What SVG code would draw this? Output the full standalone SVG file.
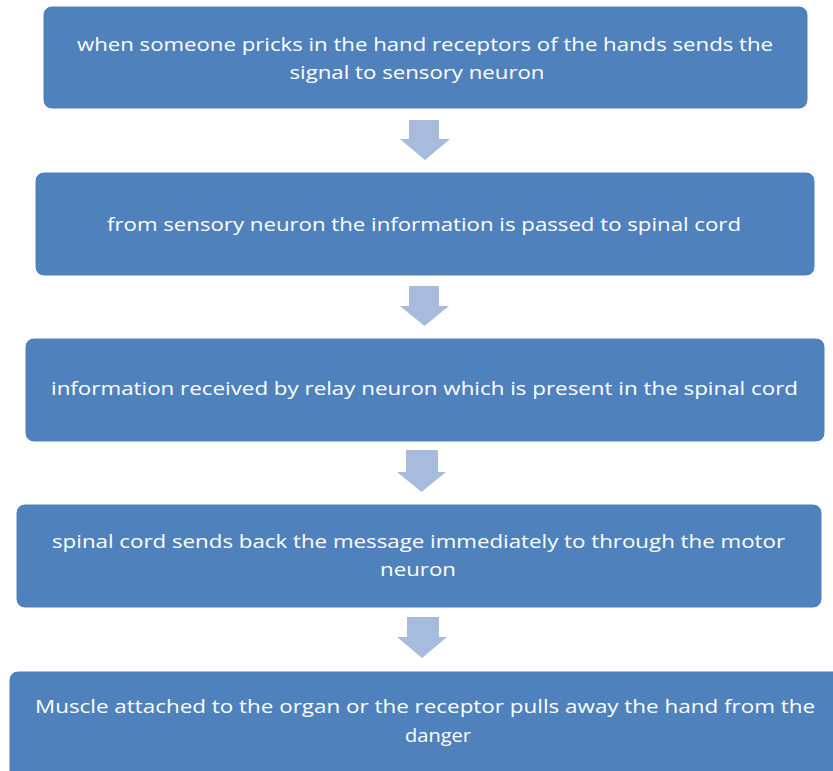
<svg xmlns="http://www.w3.org/2000/svg" width="833" height="771" viewBox="0 0 833 771">
<style>
.box{fill:#4F81BD;stroke:#FFFFFF;stroke-width:1}
.t{fill:#FFFFFF;font-family:"Open Sans","Noto Sans",sans-serif;font-size:19px;text-anchor:middle}
.arr{fill:#A7BBDC}
</style>
<rect width="833" height="771" fill="#FFFFFF"/>
<g id="node1">
<rect class="box" x="43" y="6" width="765" height="103" rx="9"/>
<text class="t" x="425" y="51" textLength="696" lengthAdjust="spacingAndGlyphs">when someone pricks in the hand receptors of the hands sends the</text>
<text class="t" x="417" y="79" textLength="255" lengthAdjust="spacingAndGlyphs">signal to sensory neuron</text>
</g>
<g id="node2">
<rect class="box" x="35" y="172" width="780" height="104" rx="9"/>
<text class="t" x="424" y="231" textLength="634" lengthAdjust="spacingAndGlyphs">from sensory neuron the information is passed to spinal cord</text>
</g>
<g id="node3">
<rect class="box" x="25" y="338" width="800" height="104" rx="9"/>
<text class="t" x="424.5" y="395" textLength="747" lengthAdjust="spacingAndGlyphs">information received by relay neuron which is present in the spinal cord</text>
</g>
<g id="node4">
<rect class="box" x="16" y="504" width="806" height="104" rx="9"/>
<text class="t" x="418.5" y="548" textLength="733" lengthAdjust="spacingAndGlyphs">spinal cord sends back the message immediately to through the motor</text>
<text class="t" x="418" y="576" textLength="76" lengthAdjust="spacingAndGlyphs">neuron</text>
</g>
<g id="node5">
<rect class="box" x="9" y="671" width="834" height="120" rx="9"/>
<text class="t" x="425" y="713" textLength="780" lengthAdjust="spacingAndGlyphs">Muscle attached to the organ or the receptor pulls away the hand from the</text>
<text class="t" x="438" y="742" textLength="66" lengthAdjust="spacingAndGlyphs">danger</text>
</g>
<g id="connectors">
<polygon class="arr" points="409,120 439,120 439,139 450,139 425,160 400,139 409,139"/>
<polygon class="arr" points="409,286 439,286 439,306 449,306 424.5,326 400,306 409,306"/>
<polygon class="arr" points="406,450 438,450 438,472 446,472 421.5,492 397,472 406,472"/>
<polygon class="arr" points="407,617 439,617 439,637 447,637 422,658 397,637 407,637"/>
</g>
</svg>
